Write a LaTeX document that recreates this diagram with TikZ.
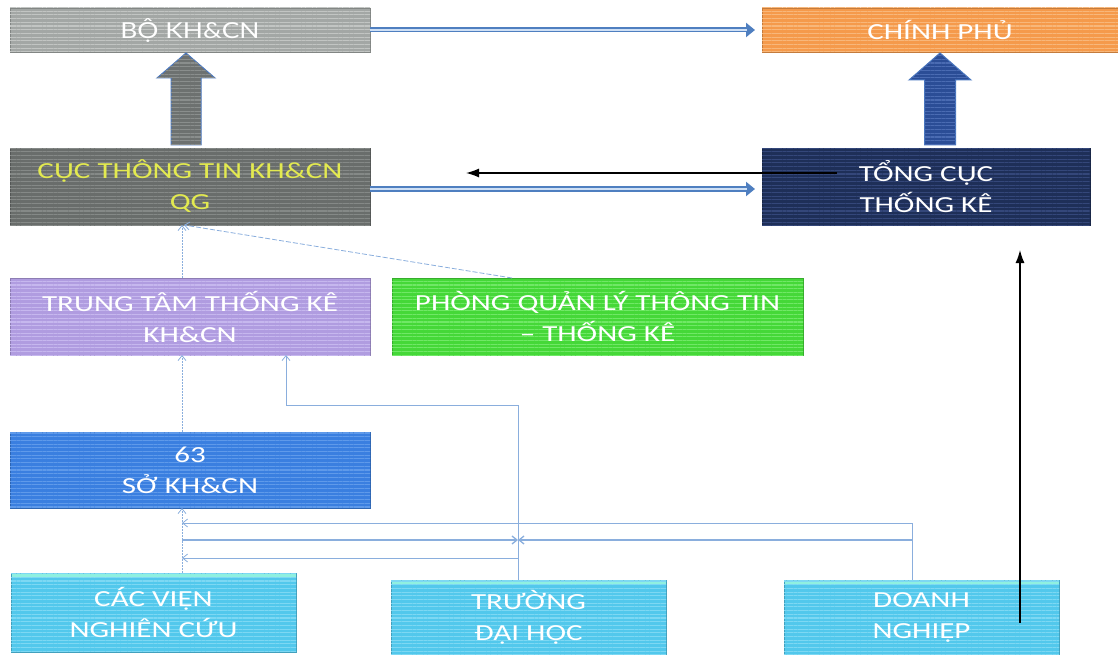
\documentclass[tikz,border=0pt]{standalone}
\usepackage{fontspec}
\setmainfont{Carlito}[FakeStretch=1.35]
\newfontfamily\latofont{Lato}[FakeStretch=1.2]
\usetikzlibrary{calc,arrows.meta,patterns.meta}
\definecolor{cbo}{HTML}{A3A7A5}\definecolor{sbo}{HTML}{C2C5C3}
\definecolor{ccp}{HTML}{F59A4B}\definecolor{scp}{HTML}{F8B77A}
\definecolor{ccuc}{HTML}{696D6B}\definecolor{scuc}{HTML}{858987}
\definecolor{ctong}{HTML}{1E2F58}\definecolor{stong}{HTML}{34477A}
\definecolor{ctt}{HTML}{B09CE0}\definecolor{stt}{HTML}{C6B7EE}
\definecolor{cph}{HTML}{45D838}\definecolor{sph}{HTML}{70E866}
\definecolor{cso}{HTML}{3A7FE0}\definecolor{sso}{HTML}{5F9AEA}
\definecolor{cbt}{HTML}{52C8EC}\definecolor{sbt}{HTML}{7DD8F3}
\definecolor{cband}{HTML}{8FF0E0}
\definecolor{ctxtY}{HTML}{E3EA50}
\definecolor{dblblue}{HTML}{4F7FC0}\definecolor{dbllight}{HTML}{CFE0F5}
\definecolor{cthin}{HTML}{8AAEDD}
\definecolor{fatg}{HTML}{6D7170}\definecolor{fatgs}{HTML}{8A8E8D}
\definecolor{fatb}{HTML}{2B4D96}\definecolor{fatbs}{HTML}{4A6BB2}
\definecolor{fatedge}{HTML}{4A78C0}
\begin{document}
\begin{tikzpicture}[x=1pt,y=-1pt,
  box/.style 2 args={fill=#1, draw=#1!80!black, line width=0.5pt, inner sep=0pt, outer sep=0pt,
    postaction={pattern={Lines[angle=0,distance=3.7pt,line width=1.1pt]}, pattern color=#2},
    font=\fontsize{23}{31}\selectfont, align=center, text=white},
  band/.style={path picture={\fill[cband] (path picture bounding box.north west) rectangle ([yshift=-5pt]path picture bounding box.north east);}},
  dbl/.style={draw=dblblue, line width=5pt, -{Triangle[length=9pt,width=14pt]}, shorten >=7pt,
    postaction={draw=dbllight, line width=1.8pt, -, shorten >=15pt}},
  blk/.style={draw=black, line width=1.3pt, -{Latex[length=13pt,width=9pt]}},
  thinln/.style={draw=cthin, line width=0.8pt},
  thinarr/.style={thinln, -{Straight Barb[length=5pt,width=8pt]}},
  fat/.style 2 args={fill=#1, draw=fatedge, line width=1pt,
    postaction={pattern={Lines[angle=0,distance=3.7pt,line width=1.1pt]}, pattern color=#2}}
]
\useasboundingbox (0,0) rectangle (1118,655);

% boxes
\node[box={cbo}{sbo}, minimum width=360pt, minimum height=44pt, font=\latofont\fontsize{22}{30}\selectfont] (bo) at (190,30) {BỘ KH\&CN};
\node[box={ccp}{scp}, minimum width=356pt, minimum height=44pt] (cp) at (940,30) {CHÍNH PHỦ};
\node[box={ccuc}{scuc}, minimum width=360pt, minimum height=77pt, text=ctxtY] (cuc) at (190,186.5) {CỤC THÔNG TIN KH\&CN\\QG};
\node[box={ctong}{stong}, minimum width=328pt, minimum height=77pt] (tong) at (926,186.5) {TỔNG CỤC\\THỐNG KÊ};
\node[box={ctt}{stt}, minimum width=360pt, minimum height=77pt] (tt) at (190,316.5) {TRUNG TÂM THỐNG KÊ\\KH\&CN};
\node[box={cph}{sph}, minimum width=411pt, minimum height=77pt] (phong) at (597.5,316.5) {PHÒNG QUẢN LÝ THÔNG TIN\\– THỐNG KÊ};
\node[box={cso}{sso}, minimum width=360pt, minimum height=76pt] (so) at (190,470) {63\\SỞ KH\&CN};
\node[box={cbt}{sbt}, band, minimum width=285pt, minimum height=79pt] (vien) at (153.5,612.5) {CÁC VIỆN\\NGHIÊN CỨU};
\node[box={cbt}{sbt}, band, minimum width=275pt, minimum height=75pt] (truong) at (528.5,617.5) {TRƯỜNG\\ĐẠI HỌC};
\node[box={cbt}{sbt}, band, minimum width=275pt, minimum height=75pt] (dn) at (921.5,617.5) {DOANH\\NGHIỆP};

% fat arrows
\coordinate (T1) at ($(bo.south)+(-4,1)$);
\coordinate (B1) at ($(cuc.north)+(-4,-3)$);
\path[fat={fatg}{fatgs}] ($(B1)+(-15,0)$) -- ($(T1)+(-15,25)$) -- ($(T1)+(-29,25)$) -- (T1)
  -- ($(T1)+(29,25)$) -- ($(T1)+(15,25)$) -- ($(B1)+(15,0)$) -- cycle;
\coordinate (T2) at ($(cp.south)+(0,1)$);
\coordinate (B2) at ($(tong.north)+(14,-3)$);
\path[fat={fatb}{fatbs}] ($(B2)+(-15.5,0)$) -- ($(T2)+(-15.5,27)$) -- ($(T2)+(-31,27)$) -- (T2)
  -- ($(T2)+(31,27)$) -- ($(T2)+(15.5,27)$) -- ($(B2)+(15.5,0)$) -- cycle;

% double blue arrows
\draw[dbl] (bo.east) -- (cp.west);
\draw[dbl] ([yshift=-2.5pt]cuc.east) -- ([yshift=-2.5pt]tong.west);

% black arrows
\coordinate (bkEnd) at (466,173);
\draw[blk] ([xshift=75pt,yshift=13.5pt]tong.west) -- (bkEnd);
\coordinate (bkTop) at ($(tong.south)+(94,25)$);
\draw[blk] ([xshift=98.5pt,yshift=-5.5pt]dn.center) -- (bkTop);

% thin connectors
\coordinate (cL) at (182,0);
\coordinate (cM) at (518,0);
\coordinate (cR) at (912,0);
\coordinate (cT) at (286,405);
\coordinate (yA) at (0,523);
\coordinate (yB) at (0,540);
\coordinate (yC) at (0,558);
\draw[thinarr, dash pattern=on 2pt off 1pt] (vien.north -| cL) -- (so.south -| cL);
\draw[thinarr, dash pattern=on 2pt off 1pt] (so.north -| cL) -- (tt.south -| cL);
\draw[thinarr, dash pattern=on 2pt off 1pt] (tt.north -| cL) -- (cuc.south -| cL);
\draw[thinarr, dash pattern=on 5pt off 2pt] ($(phong.north west)+(120,0)$) -- ($(cuc.south -| cL)+(2,0)$);
\draw[thinarr] (truong.north -| cM) |- (cT) -- (tt.south -| cT);
\draw[thinarr] (dn.north -| cR) |- (cL |- yA);
\draw[thinarr, line width=1.3pt] (cL |- yB) -- (cM |- yB);
\draw[thinarr, line width=1.3pt] (cR |- yB) -- (cM |- yB);
\draw[thinarr] (cM |- yC) -- (cL |- yC);
\end{tikzpicture}
\end{document}
